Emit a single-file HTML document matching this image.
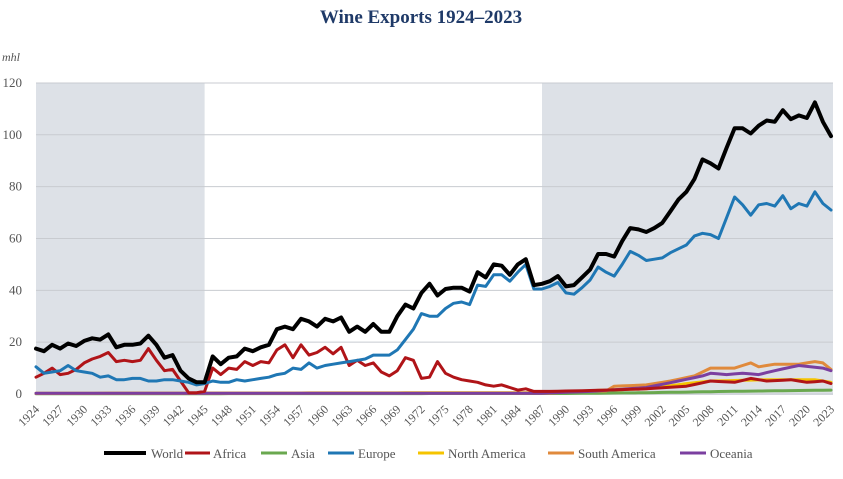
<!DOCTYPE html><html><head><meta charset="utf-8"><style>body{margin:0;background:#fff}svg{display:block}</style></head><body>
<svg id="s" width="843" height="479" xmlns="http://www.w3.org/2000/svg" font-family="Liberation Serif, serif">
<text x="421" y="23" text-anchor="middle" font-size="19" font-weight="bold" fill="#1f3a68">Wine Exports 1924–2023</text>
<text x="2" y="61" font-size="12" font-style="italic" fill="#555">mhl</text>
<rect x="36" y="83" width="168.6" height="312" fill="#dde1e7"/>
<rect x="542" y="83" width="291" height="312" fill="#dde1e7"/>
<g id="g"></g>
<g id="l" fill="none" stroke-linejoin="round" stroke-linecap="round"></g>
<g font-size="13" fill="#555">
<line x1="104" y1="453" x2="146" y2="453" stroke="#000" stroke-width="4"/><text x="151" y="458">World</text>
<line x1="185" y1="453" x2="210" y2="453" stroke="#b01418" stroke-width="3"/><text x="213" y="458">Africa</text>
<line x1="261" y1="453" x2="287" y2="453" stroke="#6aa84f" stroke-width="3"/><text x="291" y="458">Asia</text>
<line x1="328" y1="453" x2="354" y2="453" stroke="#1f77b4" stroke-width="3"/><text x="358" y="458">Europe</text>
<line x1="418" y1="453" x2="444" y2="453" stroke="#f5c400" stroke-width="3"/><text x="448" y="458">North America</text>
<line x1="548" y1="453" x2="574" y2="453" stroke="#e08a3c" stroke-width="3"/><text x="578" y="458">South America</text>
<line x1="680" y1="453" x2="706" y2="453" stroke="#7b3fa0" stroke-width="3"/><text x="710" y="458">Oceania</text>
</g>
</svg>
<script>
const X=y=>36+(y-1924)*8.03, Y=v=>394-v*2.592;
const NS="http://www.w3.org/2000/svg";
const g=document.getElementById('g'), l=document.getElementById('l'), s=document.getElementById('s');
for(let v=0;v<=120;v+=20){
 let ln=document.createElementNS(NS,'line');ln.setAttribute('x1',36);ln.setAttribute('x2',833);ln.setAttribute('y1',Y(v));ln.setAttribute('y2',Y(v));ln.setAttribute('stroke','#c8cbd0');ln.setAttribute('stroke-width',1);g.appendChild(ln);
 let t=document.createElementNS(NS,'text');t.setAttribute('x',22);t.setAttribute('y',Y(v)+4);t.setAttribute('text-anchor','end');t.setAttribute('font-size','13');t.setAttribute('fill','#555');t.textContent=v;g.appendChild(t);
}
for(let y=1924;y<=2023;y+=3){
 let t=document.createElementNS(NS,'text');const x=X(y)+4,yy=410;t.setAttribute('x',x);t.setAttribute('y',yy);t.setAttribute('text-anchor','end');t.setAttribute('font-size','12');t.setAttribute('fill','#555');t.setAttribute('transform',`rotate(-45 ${x} ${yy})`);t.textContent=y;g.appendChild(t);
}
function interp(k){const out=[];const ks=Object.keys(k).map(Number).sort((a,b)=>a-b);for(let y=1924;y<=2023;y++){let i=0;while(i<ks.length-1&&ks[i+1]<=y)i++;if(i>=ks.length-1){out.push(k[ks[ks.length-1]]);continue;}const a=ks[i],b=ks[i+1];out.push(k[a]+(k[b]-k[a])*(y-a)/(b-a));}return out;}
const world=[17.5,16.5,19,17.5,19.5,18.5,20.5,21.5,21,23,18,19,19,19.5,22.5,19,14,15,9,6,4.5,4.5,14.5,11.5,14,14.5,17.5,16.5,18,19,25,26,25,29,28,26,29,28,29.5,24,26,24,27,24,24,30,34.5,33,39,42.5,38,40.5,41,41,39.5,47,45,50,49.5,46,50,52,42,42.5,43.5,45.5,41.5,42,45,48,54,54,53,59,64,63.5,62.5,64,66,70.5,75,78,83,90.5,89,87,95,102.5,102.5,100.5,103.5,105.5,105,109.5,106,107.5,106.5,112.5,105,99.5];
const europe=[10.5,8,8.5,9,11,9,8.5,8,6.5,7,5.5,5.5,6,6,5,5,5.5,5.5,5,4.5,3.5,4,5,4.5,4.5,5.5,5,5.5,6,6.5,7.5,8,10,9.5,12,10,11,11.5,12,12.5,13,13.5,15,15,15,17,21,25,31,30,30,33,35,35.5,34.5,42,41.5,46,46,43.5,47,50,40.5,40.5,41.5,43,39,38.5,41,44,49,47,45.5,50,55,53.5,51.5,52,52.5,54.5,56,57.5,61,62,61.5,60,68,76,73,69,73,73.5,72.5,76.5,71.5,73.5,72.5,78,73.5,71];
const africa=[6.5,8,10,7.5,8,9.5,12,13.5,14.5,16,12.5,13,12.5,13,17.5,13,9,9.5,5,0.5,0.5,1,10,7.5,10,9.5,12.5,11,12.5,12,17,19,14,19,15,16,18,15.5,18,11,13,11,12,8.5,7,9,14,13,6,6.5,12.5,8,6.5,5.5,5,4.5,3.5,3,3.5,2.5,1.5,2,1,1].concat(interp({1988:1,1995:1.5,2000:2,2005:3,2008:5,2011:4.5,2013:6,2015:5,2018:5.5,2020:4.5,2022:5,2023:4}).slice(64));
const sam=interp({1924:0.2,1988:0.3,1990:0.8,1995:1.2,1996:3,2000:3.5,2003:5,2006:7,2008:10,2011:10,2013:12,2014:10.5,2016:11.5,2019:11.5,2021:12.5,2022:12,2023:9.5});
const oce=interp({1924:0.3,1987:0.3,1993:1,2000:2.5,2004:5,2007:7,2008:8,2010:7.5,2012:8,2014:7.5,2016:9,2019:11,2022:10,2023:9});
const nam=interp({1924:0.3,1987:0.5,1995:1.5,2000:2,2005:4,2008:5,2015:5.5,2021:5.5,2023:4.5});
const asia=interp({1924:0.1,1990:0.2,2000:0.5,2010:1,2023:1.5});
function draw(d,c,w){const p=document.createElementNS(NS,'polyline');p.setAttribute('points',d.map((v,i)=>X(1924+i).toFixed(1)+','+Y(v).toFixed(1)).join(' '));p.setAttribute('stroke',c);p.setAttribute('stroke-width',w);l.appendChild(p);}
draw(asia,'#6aa84f',3);draw(nam,'#f5c400',3);draw(sam,'#e08a3c',3);draw(oce,'#7b3fa0',3);draw(africa,'#b01418',3);draw(europe,'#1f77b4',3);draw(world,'#000',4);
</script>
</body></html>
